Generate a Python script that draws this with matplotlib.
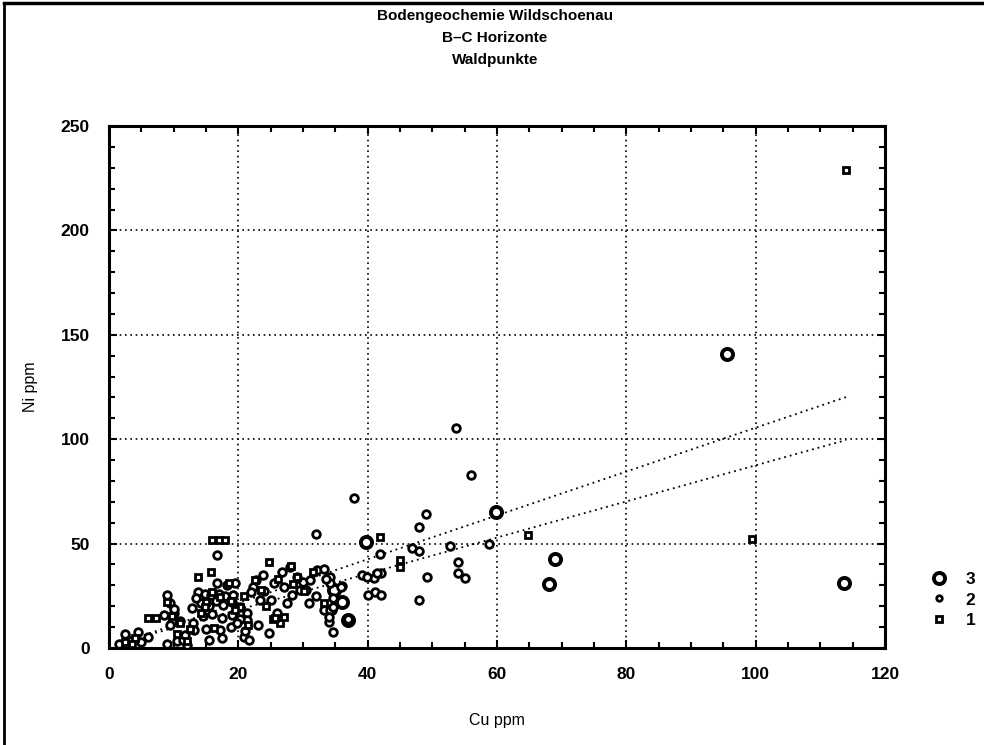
import matplotlib.pyplot as plt
from matplotlib.lines import Line2D
from matplotlib.ticker import MultipleLocator

plt.rcParams['font.family'] = ['Liberation Sans', 'DejaVu Sans']
plt.rcParams['font.weight'] = 'bold'

# class 1: small squares
cu1 = [114, 99.5, 64.8, 41.9, 45, 45, 24.7, 28.1, 15.7, 13.7, 16, 17, 18, 6, 7.2, 25.3, 26.5,
       27, 25.7, 16, 18.5, 22.6, 14.3, 15, 31.6, 8.9, 2.5, 4, 12, 20.3, 29, 33.2, 12.5, 19.5,
       17.2, 23.5, 11, 16.2, 21.5, 28.5, 10.5, 14.8, 18.8, 24.2, 30.2, 3.5, 9.8, 26.2, 20.8]
ni1 = [229, 52, 54, 53, 42, 39, 41.3, 39.2, 36.5, 34.1, 51.5, 51.5, 51.5, 14.2, 14.2, 14, 12,
       15, 14.2, 27, 31, 32.5, 16.6, 22, 36.5, 22.2, 3, 5, 3.5, 19.8, 34, 21.4, 9, 18,
       24.5, 28, 12, 9.5, 11, 30.5, 6.5, 19.5, 22.5, 20, 27.5, 2, 15.5, 33, 25]

# class 2: small circles
cu2 = [53.7, 55.9, 37.9, 49, 47.9, 32, 46.8, 47.9, 52.7, 58.8, 41.9, 54, 54, 55.1, 49.2,
       48, 39.1, 41, 42, 40.1, 41.2, 42, 37.3, 36, 34.2, 34.2, 34.5, 37, 16.7, 26.7, 28,
       32.1, 33.2, 29, 30, 31.1, 35.8, 31, 33.2, 34.2, 34, 22.8, 22.3, 23.4, 20.3, 21.3,
       21.3, 16.7, 18.2, 19.5, 8.9, 9.4, 10, 9.7, 13.8, 14.8, 15.8, 17, 18, 19.2, 14.2,
       15.5, 16.6, 17.7, 19, 14.5, 16, 17.5, 19, 20.2, 15, 17.2, 18.8, 15.5, 17.5, 20.8,
       21.6, 24.7, 27.5, 28.3, 30.5, 32, 33.6, 34.7, 34.7, 34, 34.7, 39.9, 41.5, 1.5, 3,
       5, 6, 9, 10.5, 12, 11.5, 13.2, 2.5, 4.5, 9.5, 11, 13, 8.5, 10, 22, 23.1, 26, 25,
       12.8, 13.5, 11.8, 24, 27, 29.5, 21, 19.8, 23.8, 25.5]
ni2 = [105.4, 82.8, 71.6, 64, 58, 54.4, 48, 46.5, 48.8, 50, 45, 41, 35.7, 33.3, 34,
       23, 35, 33.3, 35.7, 25.4, 27, 25.4, 13.4, 29.7, 34, 31, 18, 13.7, 44.5, 36.5, 39,
       37.3, 38, 34, 31.7, 32.5, 29.3, 21.4, 18.2, 18.2, 12.6, 32.5, 29.3, 23, 19.8, 16.6,
       13.4, 31, 30.1, 31, 25.4, 21.4, 16.6, 12.6, 27, 26, 25.5, 26, 25, 25.5, 21.5,
       20, 22.5, 20.5, 22, 15.5, 16.5, 14.5, 16, 14, 9, 8.5, 10, 4, 5, 5.4,
       3.8, 7.3, 21.4, 25.4, 28, 25, 33, 24, 19.7, 14.7, 7.7, 34, 36, 2, 4,
       3, 5.5, 2, 3.5, 1.5, 4, 8.8, 6.5, 7.5, 11, 13, 12, 16, 18.5, 27, 11, 17, 23,
       19, 24, 6, 27.5, 29, 28, 8, 12, 35, 31]

# class 3: large circles
cu3 = [95.5, 113.6, 68.9, 68, 59.8, 39.7, 36, 37, 34.8]
ni3 = [141, 31, 42.4, 30.5, 65, 51, 22, 13.4, 28]

# fitted lines (slope, intercept) and x range
fit_a = [1.05, 0.5]
fit_b = [0.865, 1.0]
fit_x = [2, 114]

fig = plt.figure(figsize=(9.84, 7.45), dpi=100)
ax = fig.add_axes([0.1108, 0.1302, 0.7886, 0.7007])

ax.plot(cu3, ni3, 'o', ms=8, mfc='white', mec='black', mew=2.8, ls='none', zorder=3)
ax.plot(cu2, ni2, 'o', ms=5.5, mfc='white', mec='black', mew=2.0, ls='none', zorder=3)
ax.plot(cu1, ni1, 's', ms=5, mfc='white', mec='black', mew=2.0, ls='none', zorder=3)

for k, b in [fit_a, fit_b]:
    ax.plot(fit_x, [k * x + b for x in fit_x], color='black', ls=(0, (1, 2.2)), lw=1.3, zorder=2)

ax.set_xlim(0, 120)
ax.set_ylim(0, 250)
ax.xaxis.set_major_locator(MultipleLocator(20))
ax.xaxis.set_minor_locator(MultipleLocator(5))
ax.yaxis.set_major_locator(MultipleLocator(50))
ax.yaxis.set_minor_locator(MultipleLocator(10))
ax.tick_params(which='both', direction='in', top=True, right=True, width=1.5)
ax.tick_params(which='major', length=6, labelsize=12.5, pad=14)
ax.tick_params(which='minor', length=4)
ax.grid(True, which='major', color='black', ls=(0, (1, 2.2)), lw=1.2)
for s in ax.spines.values():
    s.set_linewidth(2.2)

ax.set_xlabel('Cu ppm', fontsize=11.5, fontweight='normal', labelpad=22)
ax.set_ylabel('Ni ppm', fontsize=11.5, fontweight='normal', labelpad=16)

fig.text(0.503, 0.988, 'Bodengeochemie Wildschoenau\nB\u2013C Horizonte\nWaldpunkte',
         ha='center', va='top', fontsize=11, fontweight='bold', linespacing=1.75)

handles = [
    Line2D([], [], marker='o', ls='none', ms=8, mfc='white', mec='black', mew=2.8),
    Line2D([], [], marker='o', ls='none', ms=4, mfc='white', mec='black', mew=2.0),
    Line2D([], [], marker='s', ls='none', ms=4, mfc='white', mec='black', mew=2.0),
]
fig.legend(handles, ['3', '2', '1'], loc='upper left', bbox_to_anchor=(0.93, 0.242),
           frameon=False, fontsize=12.5, handletextpad=0.5, labelspacing=0.32,
           borderaxespad=0)

# page frame (top and left edge of the scanned sheet)
fig.add_artist(Line2D([0.004, 1.0], [0.996, 0.996], color='black', lw=2.5, transform=fig.transFigure))
fig.add_artist(Line2D([0.004, 0.004], [0.0, 0.996], color='black', lw=2.0, transform=fig.transFigure))

fig.savefig('out.png', dpi=100)
